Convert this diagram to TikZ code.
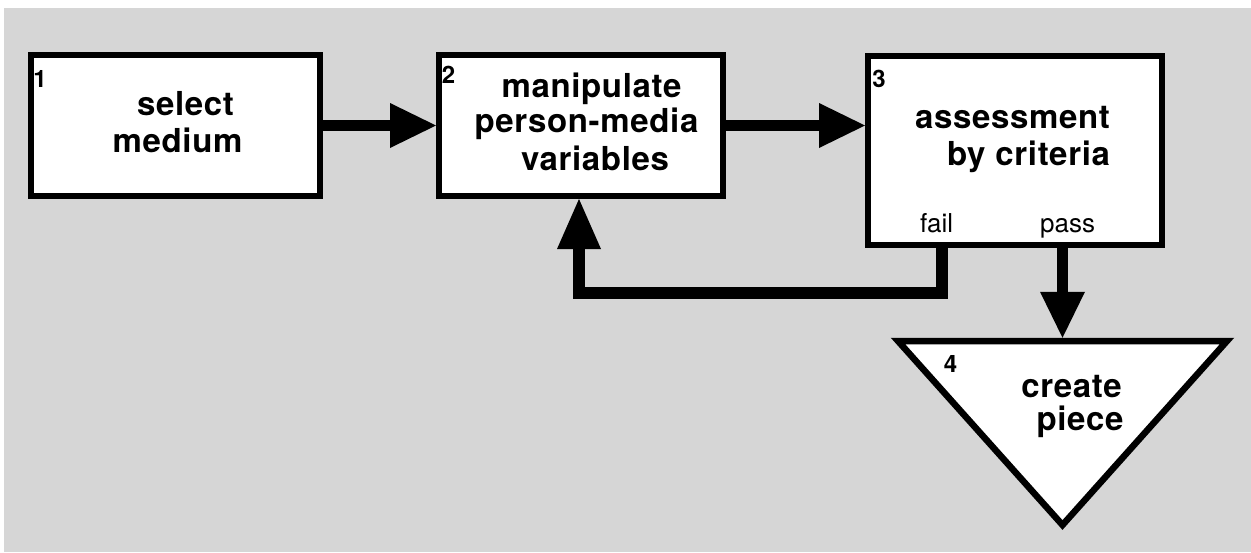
\documentclass[tikz,border=0pt]{standalone}
\usepackage{fontspec}
\setmainfont{TeX Gyre Heros}
\newfontfamily\bigf[LetterSpace=2]{TeX Gyre Heros}
\usetikzlibrary{arrows.meta}
\definecolor{bg}{RGB}{214,214,214}
\begin{document}
\begin{tikzpicture}[x=1pt,y=-1pt,
  boxst/.style={draw,rectangle,line width=6pt,fill=white,inner sep=0pt},
  mainlbl/.style={font=\bigf\bfseries\fontsize{33pt}{37pt}\selectfont,inner sep=0pt,anchor=base},
  numlbl/.style={font=\fontsize{24pt}{28pt}\selectfont\bfseries,inner sep=0pt,anchor=base},
  smlbl/.style={font=\fontsize{26pt}{30pt}\selectfont,inner sep=0pt,anchor=base west},
  arr/.style={line width=11.5pt,line join=miter,-{Triangle[length=46pt,width=45pt,line width=0pt]}}]
\useasboundingbox (0,0) rectangle (1251,552);
\fill[bg] (4,8) rectangle (1251,552);
% boxes
\node[boxst,minimum width=289pt,minimum height=141pt] (b1) at (175.5,125.5) {};
\node[boxst,minimum width=284pt,minimum height=141pt] (b2) at (581,125.5) {};
\node[boxst,minimum width=294pt,minimum height=189pt] (b3) at (1015,150.5) {};
% triangle
\coordinate (tl) at (898,341);
\coordinate (tr) at (1227,341);
\coordinate (tb) at (1062.5,525);
\draw[line width=6.5pt,fill=white,line join=miter] (tl) -- (tr) -- (tb) -- cycle;
% labels
\node[mainlbl] (s1a) at (185.5,115) {select};
\node[mainlbl] (s1b) at (177.5,152) {medium};
\node[mainlbl] (s2a) at (591.5,97) {manipulate};
\node[mainlbl] (s2b) at (586.5,132) {person-media};
\node[mainlbl] (s2c) at (595,170) {variables};
\node[mainlbl] (s3a) at (1012.5,128) {assessment};
\node[mainlbl] (s3b) at (1028.5,165) {by criteria};
\node[mainlbl] (s4a) at (1071.5,397) {create};
\node[mainlbl] (s4b) at (1080,430) {piece};
\node[numlbl] (n1) at (40,87) {1};
\node[numlbl] (n2) at (448.5,83) {2};
\node[numlbl] (n3) at (879,87) {3};
\node[numlbl] (n4) at (950.5,372) {4};
\node[smlbl] (fail) at (920,232) {fail};
\node[smlbl] (pass) at (1040,232) {pass};
% connectors
\draw[arr] (b1.east) -- (b2.west);
\draw[arr] (b2.east) -- (b2.east -| b3.west);
\coordinate (fr) at (942,293);
\coordinate (fl) at (579,293);
\draw[arr,-{Triangle[length=50pt,width=44pt,line width=0pt]}] (fr |- b3.south) -- (fr) -- (fl) -- (fl |- b2.south);
\coordinate (pt) at (1062.5,337.75);
\draw[arr] (pt |- b3.south) -- (pt);
\end{tikzpicture}
\end{document}
